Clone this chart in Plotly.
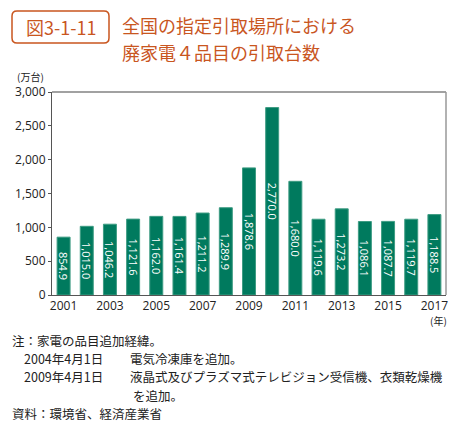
import plotly.graph_objects as go

years = list(range(2001, 2018))
values = [854.9, 1015.0, 1046.2, 1121.6, 1162.0, 1161.4, 1211.2, 1289.9, 1878.6,
          2770.0, 1680.0, 1119.6, 1273.2, 1086.1, 1087.7, 1119.7, 1188.5]
labels = [f"{v:,.1f}" for v in values]
tick_years = [2001, 2003, 2005, 2007, 2009, 2011, 2013, 2015, 2017]
y_ticks = [0, 500, 1000, 1500, 2000, 2500, 3000]

W, H = 464, 427
L, R, T, B = 52, 446, 92, 295
FONT = "Noto Sans CJK JP"
ORANGE = "#C9561F"
GREEN = "#007A5E"

def px(x):
    return (x - L) / (R - L)

def py(y):
    return (B - y) / (B - T)

fig = go.Figure()
fig.add_trace(go.Bar(
    x=years, y=values, text=labels,
    marker=dict(color=GREEN, line=dict(color="#3E9C83", width=1)),
    textposition="inside", insidetextanchor="middle", textangle=90,
    textfont=dict(color="white", size=11, family="Open Sans"),
    cliponaxis=False,
))

fig.update_layout(
    width=W, height=H,
    margin=dict(l=L, r=W - R, t=T, b=H - B, pad=0),
    paper_bgcolor="white", plot_bgcolor="white",
    bargap=0.44, showlegend=False,
    uniformtext=dict(minsize=11, mode="show"),
    font=dict(family=FONT, color="#333333"),
    xaxis=dict(range=[2000.5, 2017.5], tickvals=tick_years, ticktext=[str(y) for y in tick_years],
               showgrid=False, zeroline=False, showline=True, linecolor="#555555", linewidth=1,
               mirror=False, ticks="", tickfont=dict(size=12, color="#222222", family="Open Sans"),
               fixedrange=True),
    yaxis=dict(range=[0, 3000], tickvals=y_ticks, ticktext=[f"{v:,}" for v in y_ticks],
               showgrid=False, zeroline=False, showline=True, linecolor="#555555", linewidth=1,
               ticks="outside", ticklen=3, tickcolor="#555555",
               tickfont=dict(size=12, color="#222222", family="Open Sans"), fixedrange=True),
)

# top and right border
fig.add_shape(type="line", xref="paper", yref="paper", x0=0, x1=1, y0=1, y1=1,
              line=dict(color="#444444", width=1.2))
fig.add_shape(type="line", xref="paper", yref="paper", x0=1, x1=1, y0=0, y1=1,
              line=dict(color="#999999", width=1.5))

# rounded title box
bx0, bx1, by0, by1 = px(12), px(109), py(43), py(11)
rx, ry = 5 / (R - L), 5 / (B - T)
path = (f"M {bx0+rx},{by1} L {bx1-rx},{by1} Q {bx1},{by1} {bx1},{by1-ry} "
        f"L {bx1},{by0+ry} Q {bx1},{by0} {bx1-rx},{by0} "
        f"L {bx0+rx},{by0} Q {bx0},{by0} {bx0},{by0+ry} "
        f"L {bx0},{by1-ry} Q {bx0},{by1} {bx0+rx},{by1} Z")
fig.add_shape(type="path", xref="paper", yref="paper", path=path,
              line=dict(color=ORANGE, width=1.5))

def ann(text, x, y, size=12, color="#222222", xanchor="left", yanchor="middle", family=FONT):
    fig.add_annotation(text=text, x=px(x), y=py(y), xref="paper", yref="paper",
                       showarrow=False, xanchor=xanchor, yanchor=yanchor, borderpad=0,
                       align="left", font=dict(size=size, color=color, family=family))

ann("図3-1-11", 61, 27, size=18, color=ORANGE, xanchor="center")
ann("全国の指定引取場所における", 121, 25, size=18, color=ORANGE)
ann("廃家電４品目の引取台数", 121, 52, size=18, color=ORANGE)
ann("(万台)", 30, 76, size=10, color="#222222", xanchor="center")
ann("(年)", 438, 320, size=10, color="#222222", xanchor="center")

NS = 12.5
ann("注：家電の品目追加経緯。", 11, 340.5, size=NS)
ann("2004年4月1日", 23, 358, size=NS)
ann("電気冷凍庫を追加。", 129, 358, size=NS)
ann("2009年4月1日", 23, 376, size=NS)
ann("液晶式及びプラズマ式テレビジョン受信機、衣類乾燥機", 129, 376, size=NS)
ann("を追加。", 132, 395, size=NS)
ann("資料：環境省、経済産業省", 11, 413, size=NS)

fig.write_html("out.html", post_script="document.body.style.margin='0';",
               config={"displayModeBar": False})
